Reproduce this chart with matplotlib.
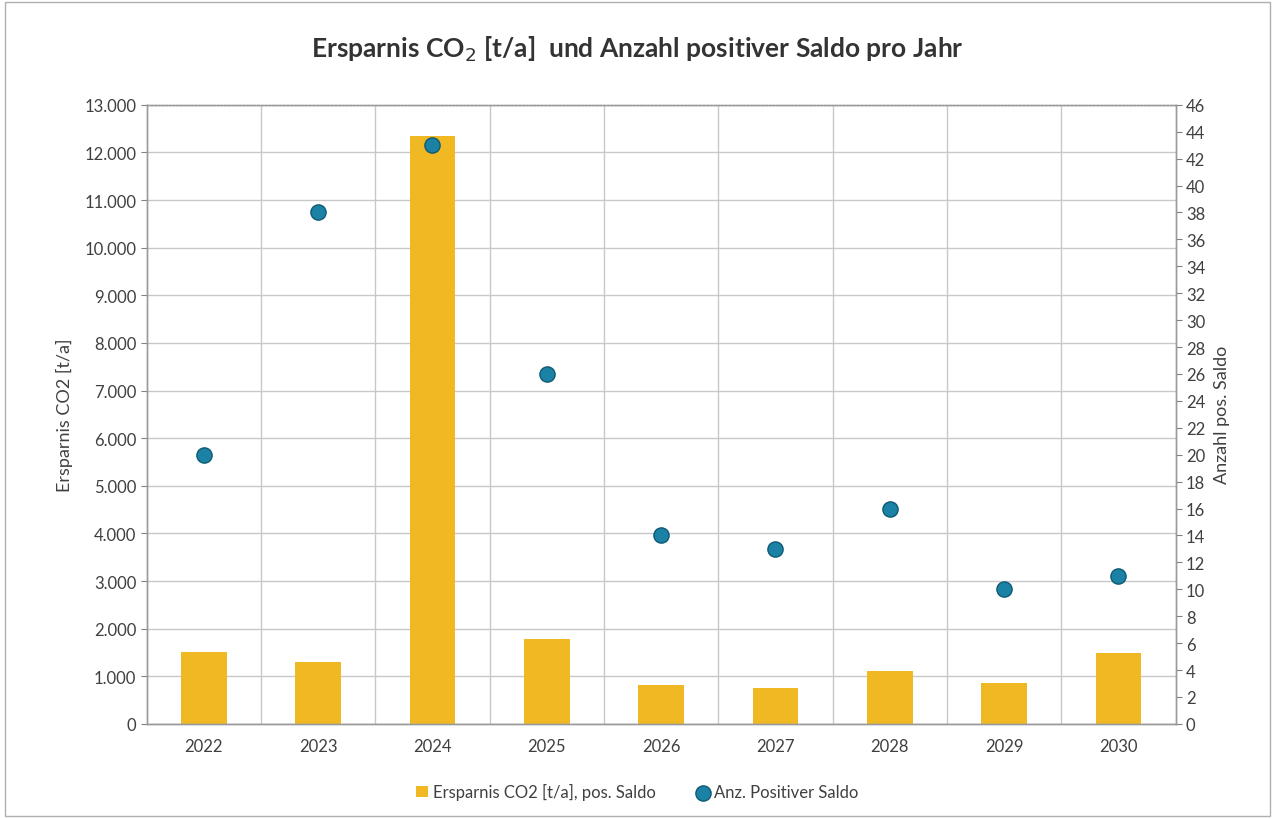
import matplotlib.pyplot as plt
import matplotlib.ticker as mticker
import numpy as np

plt.rcParams['font.family'] = ['Lato', 'DejaVu Sans']

years = ["2022", "2023", "2024", "2025", "2026", "2027", "2028", "2029", "2030"]
co2_savings = [1510, 1300, 12350, 1790, 820, 760, 1120, 860, 1490]
count_positive = [20, 38, 43, 26, 14, 13, 16, 10, 11]

bar_color = "#F0B823"
dot_color = "#1B82A6"
grid_color = "#C8C8C8"
text_color = "#404040"

fig = plt.figure(figsize=(12.75, 8.2), dpi=100)
fig.patch.set_facecolor("white")
ax = fig.add_axes([0.115, 0.116, 0.807, 0.755])
ax2 = ax.twinx()

x = np.arange(len(years))
ax.bar(x, co2_savings, width=0.4, color=bar_color, zorder=2,
       label="Ersparnis CO2 [t/a], pos. Saldo")
ax2.scatter(x, count_positive, s=120, color=dot_color, edgecolor="#0E5A73",
            linewidth=1, zorder=3, label="Anz. Positiver Saldo")

ax.set_xlim(-0.5, len(years) - 0.5)
ax.set_ylim(0, 13000)
ax.set_yticks(np.arange(0, 13001, 1000))
ax.yaxis.set_major_formatter(mticker.FuncFormatter(
    lambda v, p: f"{int(v):,}".replace(",", ".")))
ax.set_xticks(x)
ax.set_xticklabels(years)
ax.set_xticks(np.arange(0.5, len(years) - 1, 1), minor=True)
ax.grid(axis="y", which="major", color=grid_color, linewidth=1, zorder=0)
ax.grid(axis="x", which="minor", color=grid_color, linewidth=1, zorder=0)
ax.tick_params(axis="x", which="both", length=0, pad=10)
ax.tick_params(axis="y", length=4, color="#808080", labelsize=12, labelcolor=text_color)
ax.tick_params(axis="x", labelsize=12, labelcolor=text_color)

ax2.set_ylim(0, 46)
ax2.set_yticks(np.arange(0, 47, 2))
ax2.tick_params(axis="y", length=4, color="#808080", labelsize=12, labelcolor=text_color)

for a in (ax, ax2):
    for s in a.spines.values():
        s.set_color("#9A9A9A")
        s.set_linewidth(1)
ax2.spines["top"].set_linestyle(":")

ax.set_ylabel("Ersparnis CO2 [t/a]", fontsize=13, color=text_color, labelpad=8)
ax2.set_ylabel("Anzahl pos. Saldo", fontsize=13, color=text_color, labelpad=6)

fig.text(0.5, 0.94, r"Ersparnis CO$_2$ [t/a]  und Anzahl positiver Saldo pro Jahr",
         ha="center", va="center", fontsize=19, fontweight="bold", color="#333333")

h1, l1 = ax.get_legend_handles_labels()
h2, l2 = ax2.get_legend_handles_labels()
fig.legend(h1 + h2, l1 + l2, loc="center", bbox_to_anchor=(0.5, 0.033), ncol=2,
           frameon=False, fontsize=12, handlelength=0.7, handletextpad=0.3,
           columnspacing=2.5, labelcolor=text_color)

fig.add_artist(plt.Rectangle((0.004, 0.004), 0.992, 0.992, transform=fig.transFigure,
                             fill=False, edgecolor="#B0B0B0", linewidth=1))

fig.savefig("out.png", dpi=100)
